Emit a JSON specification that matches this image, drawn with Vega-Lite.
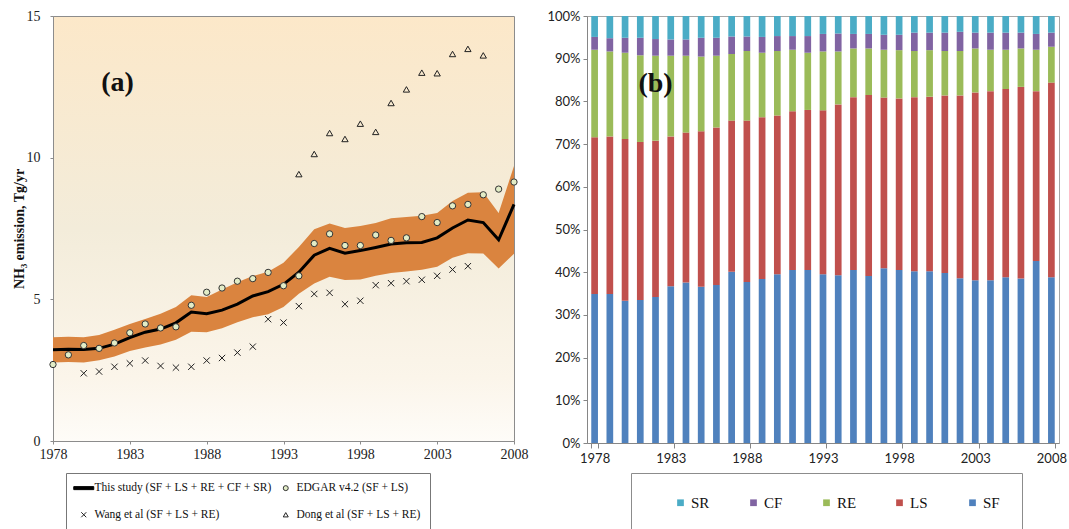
{
  "$schema": "https://vega.github.io/schema/vega-lite/v6.json",
  "background": "white",
  "padding": {"left": 11, "top": 8, "right": 4, "bottom": 0},
  "spacing": 17,
  "config": {"font": "Liberation Serif", "view": {"stroke": "#999999"}},
  "resolve": {"scale": {"color": "independent", "shape": "independent", "fill": "independent", "stroke": "independent"}},
  "datasets": {
    "study": [
      {"year": 1978, "val": 3.22, "lo": 2.77, "hi": 3.66},
      {"year": 1979, "val": 3.24, "lo": 2.79, "hi": 3.68},
      {"year": 1980, "val": 3.23, "lo": 2.77, "hi": 3.66},
      {"year": 1981, "val": 3.27, "lo": 2.85, "hi": 3.74},
      {"year": 1982, "val": 3.42, "lo": 2.98, "hi": 3.93},
      {"year": 1983, "val": 3.65, "lo": 3.18, "hi": 4.13},
      {"year": 1984, "val": 3.84, "lo": 3.30, "hi": 4.31},
      {"year": 1985, "val": 3.95, "lo": 3.41, "hi": 4.49},
      {"year": 1986, "val": 4.17, "lo": 3.57, "hi": 4.73},
      {"year": 1987, "val": 4.55, "lo": 3.86, "hi": 5.14},
      {"year": 1988, "val": 4.49, "lo": 3.84, "hi": 5.08},
      {"year": 1989, "val": 4.62, "lo": 3.98, "hi": 5.35},
      {"year": 1990, "val": 4.83, "lo": 4.19, "hi": 5.60},
      {"year": 1991, "val": 5.12, "lo": 4.37, "hi": 5.82},
      {"year": 1992, "val": 5.27, "lo": 4.47, "hi": 5.97},
      {"year": 1993, "val": 5.53, "lo": 4.73, "hi": 6.29},
      {"year": 1994, "val": 5.96, "lo": 5.20, "hi": 6.85},
      {"year": 1995, "val": 6.56, "lo": 5.56, "hi": 7.47},
      {"year": 1996, "val": 6.80, "lo": 5.80, "hi": 7.68},
      {"year": 1997, "val": 6.63, "lo": 5.68, "hi": 7.52},
      {"year": 1998, "val": 6.72, "lo": 5.70, "hi": 7.59},
      {"year": 1999, "val": 6.83, "lo": 5.83, "hi": 7.69},
      {"year": 2000, "val": 6.95, "lo": 5.93, "hi": 7.86},
      {"year": 2001, "val": 7.00, "lo": 5.98, "hi": 7.91},
      {"year": 2002, "val": 7.01, "lo": 6.04, "hi": 7.95},
      {"year": 2003, "val": 7.17, "lo": 6.15, "hi": 8.05},
      {"year": 2004, "val": 7.52, "lo": 6.47, "hi": 8.47},
      {"year": 2005, "val": 7.80, "lo": 6.63, "hi": 8.76},
      {"year": 2006, "val": 7.71, "lo": 6.62, "hi": 8.78},
      {"year": 2007, "val": 7.10, "lo": 6.09, "hi": 8.05},
      {"year": 2008, "val": 8.35, "lo": 6.61, "hi": 9.71}
    ],
    "refs": [
      {"year": 1978, "value": 2.70, "series": "EDGAR v4.2 (SF + LS)"},
      {"year": 1979, "value": 3.04, "series": "EDGAR v4.2 (SF + LS)"},
      {"year": 1980, "value": 3.37, "series": "EDGAR v4.2 (SF + LS)"},
      {"year": 1981, "value": 3.27, "series": "EDGAR v4.2 (SF + LS)"},
      {"year": 1982, "value": 3.46, "series": "EDGAR v4.2 (SF + LS)"},
      {"year": 1983, "value": 3.82, "series": "EDGAR v4.2 (SF + LS)"},
      {"year": 1984, "value": 4.13, "series": "EDGAR v4.2 (SF + LS)"},
      {"year": 1985, "value": 3.99, "series": "EDGAR v4.2 (SF + LS)"},
      {"year": 1986, "value": 4.03, "series": "EDGAR v4.2 (SF + LS)"},
      {"year": 1987, "value": 4.79, "series": "EDGAR v4.2 (SF + LS)"},
      {"year": 1988, "value": 5.25, "series": "EDGAR v4.2 (SF + LS)"},
      {"year": 1989, "value": 5.40, "series": "EDGAR v4.2 (SF + LS)"},
      {"year": 1990, "value": 5.64, "series": "EDGAR v4.2 (SF + LS)"},
      {"year": 1991, "value": 5.73, "series": "EDGAR v4.2 (SF + LS)"},
      {"year": 1992, "value": 5.95, "series": "EDGAR v4.2 (SF + LS)"},
      {"year": 1993, "value": 5.48, "series": "EDGAR v4.2 (SF + LS)"},
      {"year": 1994, "value": 5.83, "series": "EDGAR v4.2 (SF + LS)"},
      {"year": 1995, "value": 6.97, "series": "EDGAR v4.2 (SF + LS)"},
      {"year": 1996, "value": 7.31, "series": "EDGAR v4.2 (SF + LS)"},
      {"year": 1997, "value": 6.90, "series": "EDGAR v4.2 (SF + LS)"},
      {"year": 1998, "value": 6.90, "series": "EDGAR v4.2 (SF + LS)"},
      {"year": 1999, "value": 7.27, "series": "EDGAR v4.2 (SF + LS)"},
      {"year": 2000, "value": 7.08, "series": "EDGAR v4.2 (SF + LS)"},
      {"year": 2001, "value": 7.17, "series": "EDGAR v4.2 (SF + LS)"},
      {"year": 2002, "value": 7.92, "series": "EDGAR v4.2 (SF + LS)"},
      {"year": 2003, "value": 7.71, "series": "EDGAR v4.2 (SF + LS)"},
      {"year": 2004, "value": 8.30, "series": "EDGAR v4.2 (SF + LS)"},
      {"year": 2005, "value": 8.35, "series": "EDGAR v4.2 (SF + LS)"},
      {"year": 2006, "value": 8.69, "series": "EDGAR v4.2 (SF + LS)"},
      {"year": 2007, "value": 8.89, "series": "EDGAR v4.2 (SF + LS)"},
      {"year": 2008, "value": 9.14, "series": "EDGAR v4.2 (SF + LS)"},
      {"year": 1980, "value": 2.39, "series": "Wang et al (SF + LS + RE)"},
      {"year": 1981, "value": 2.45, "series": "Wang et al (SF + LS + RE)"},
      {"year": 1982, "value": 2.62, "series": "Wang et al (SF + LS + RE)"},
      {"year": 1983, "value": 2.74, "series": "Wang et al (SF + LS + RE)"},
      {"year": 1984, "value": 2.84, "series": "Wang et al (SF + LS + RE)"},
      {"year": 1985, "value": 2.65, "series": "Wang et al (SF + LS + RE)"},
      {"year": 1986, "value": 2.59, "series": "Wang et al (SF + LS + RE)"},
      {"year": 1987, "value": 2.62, "series": "Wang et al (SF + LS + RE)"},
      {"year": 1988, "value": 2.84, "series": "Wang et al (SF + LS + RE)"},
      {"year": 1989, "value": 2.93, "series": "Wang et al (SF + LS + RE)"},
      {"year": 1990, "value": 3.12, "series": "Wang et al (SF + LS + RE)"},
      {"year": 1991, "value": 3.33, "series": "Wang et al (SF + LS + RE)"},
      {"year": 1992, "value": 4.30, "series": "Wang et al (SF + LS + RE)"},
      {"year": 1993, "value": 4.18, "series": "Wang et al (SF + LS + RE)"},
      {"year": 1994, "value": 4.76, "series": "Wang et al (SF + LS + RE)"},
      {"year": 1995, "value": 5.19, "series": "Wang et al (SF + LS + RE)"},
      {"year": 1996, "value": 5.23, "series": "Wang et al (SF + LS + RE)"},
      {"year": 1997, "value": 4.83, "series": "Wang et al (SF + LS + RE)"},
      {"year": 1998, "value": 4.95, "series": "Wang et al (SF + LS + RE)"},
      {"year": 1999, "value": 5.50, "series": "Wang et al (SF + LS + RE)"},
      {"year": 2000, "value": 5.57, "series": "Wang et al (SF + LS + RE)"},
      {"year": 2001, "value": 5.64, "series": "Wang et al (SF + LS + RE)"},
      {"year": 2002, "value": 5.69, "series": "Wang et al (SF + LS + RE)"},
      {"year": 2003, "value": 5.83, "series": "Wang et al (SF + LS + RE)"},
      {"year": 2004, "value": 6.05, "series": "Wang et al (SF + LS + RE)"},
      {"year": 2005, "value": 6.17, "series": "Wang et al (SF + LS + RE)"},
      {"year": 1994, "value": 9.42, "series": "Dong et al (SF + LS + RE)"},
      {"year": 1995, "value": 10.13, "series": "Dong et al (SF + LS + RE)"},
      {"year": 1996, "value": 10.87, "series": "Dong et al (SF + LS + RE)"},
      {"year": 1997, "value": 10.66, "series": "Dong et al (SF + LS + RE)"},
      {"year": 1998, "value": 11.20, "series": "Dong et al (SF + LS + RE)"},
      {"year": 1999, "value": 10.91, "series": "Dong et al (SF + LS + RE)"},
      {"year": 2000, "value": 11.93, "series": "Dong et al (SF + LS + RE)"},
      {"year": 2001, "value": 12.41, "series": "Dong et al (SF + LS + RE)"},
      {"year": 2002, "value": 13.00, "series": "Dong et al (SF + LS + RE)"},
      {"year": 2003, "value": 12.98, "series": "Dong et al (SF + LS + RE)"},
      {"year": 2004, "value": 13.66, "series": "Dong et al (SF + LS + RE)"},
      {"year": 2005, "value": 13.84, "series": "Dong et al (SF + LS + RE)"},
      {"year": 2006, "value": 13.61, "series": "Dong et al (SF + LS + RE)"}
    ],
    "shares": [
      {"year":1978,"comp":"SF","ord":1,"pct":34.9},{"year":1978,"comp":"LS","ord":2,"pct":36.7},{"year":1978,"comp":"RE","ord":3,"pct":20.5},{"year":1978,"comp":"CF","ord":4,"pct":3.0},{"year":1978,"comp":"SR","ord":5,"pct":4.9},
      {"year":1979,"comp":"SF","ord":1,"pct":34.9},{"year":1979,"comp":"LS","ord":2,"pct":36.9},{"year":1979,"comp":"RE","ord":3,"pct":19.9},{"year":1979,"comp":"CF","ord":4,"pct":3.1},{"year":1979,"comp":"SR","ord":5,"pct":5.2},
      {"year":1980,"comp":"SF","ord":1,"pct":33.3},{"year":1980,"comp":"LS","ord":2,"pct":37.9},{"year":1980,"comp":"RE","ord":3,"pct":20.2},{"year":1980,"comp":"CF","ord":4,"pct":3.5},{"year":1980,"comp":"SR","ord":5,"pct":5.1},
      {"year":1981,"comp":"SF","ord":1,"pct":33.5},{"year":1981,"comp":"LS","ord":2,"pct":37.0},{"year":1981,"comp":"RE","ord":3,"pct":20.3},{"year":1981,"comp":"CF","ord":4,"pct":4.1},{"year":1981,"comp":"SR","ord":5,"pct":5.1},
      {"year":1982,"comp":"SF","ord":1,"pct":34.2},{"year":1982,"comp":"LS","ord":2,"pct":36.6},{"year":1982,"comp":"RE","ord":3,"pct":19.9},{"year":1982,"comp":"CF","ord":4,"pct":3.9},{"year":1982,"comp":"SR","ord":5,"pct":5.4},
      {"year":1983,"comp":"SF","ord":1,"pct":36.7},{"year":1983,"comp":"LS","ord":2,"pct":35.1},{"year":1983,"comp":"RE","ord":3,"pct":18.9},{"year":1983,"comp":"CF","ord":4,"pct":3.8},{"year":1983,"comp":"SR","ord":5,"pct":5.5},
      {"year":1984,"comp":"SF","ord":1,"pct":37.6},{"year":1984,"comp":"LS","ord":2,"pct":35.1},{"year":1984,"comp":"RE","ord":3,"pct":18.0},{"year":1984,"comp":"CF","ord":4,"pct":3.8},{"year":1984,"comp":"SR","ord":5,"pct":5.5},
      {"year":1985,"comp":"SF","ord":1,"pct":36.6},{"year":1985,"comp":"LS","ord":2,"pct":36.4},{"year":1985,"comp":"RE","ord":3,"pct":17.5},{"year":1985,"comp":"CF","ord":4,"pct":4.4},{"year":1985,"comp":"SR","ord":5,"pct":5.1},
      {"year":1986,"comp":"SF","ord":1,"pct":37.0},{"year":1986,"comp":"LS","ord":2,"pct":36.9},{"year":1986,"comp":"RE","ord":3,"pct":16.8},{"year":1986,"comp":"CF","ord":4,"pct":4.2},{"year":1986,"comp":"SR","ord":5,"pct":5.1},
      {"year":1987,"comp":"SF","ord":1,"pct":40.1},{"year":1987,"comp":"LS","ord":2,"pct":35.4},{"year":1987,"comp":"RE","ord":3,"pct":15.6},{"year":1987,"comp":"CF","ord":4,"pct":4.1},{"year":1987,"comp":"SR","ord":5,"pct":4.8},
      {"year":1988,"comp":"SF","ord":1,"pct":37.7},{"year":1988,"comp":"LS","ord":2,"pct":37.8},{"year":1988,"comp":"RE","ord":3,"pct":16.3},{"year":1988,"comp":"CF","ord":4,"pct":3.4},{"year":1988,"comp":"SR","ord":5,"pct":4.8},
      {"year":1989,"comp":"SF","ord":1,"pct":38.4},{"year":1989,"comp":"LS","ord":2,"pct":37.9},{"year":1989,"comp":"RE","ord":3,"pct":15.1},{"year":1989,"comp":"CF","ord":4,"pct":3.7},{"year":1989,"comp":"SR","ord":5,"pct":4.9},
      {"year":1990,"comp":"SF","ord":1,"pct":39.5},{"year":1990,"comp":"LS","ord":2,"pct":37.2},{"year":1990,"comp":"RE","ord":3,"pct":15.1},{"year":1990,"comp":"CF","ord":4,"pct":3.5},{"year":1990,"comp":"SR","ord":5,"pct":4.7},
      {"year":1991,"comp":"SF","ord":1,"pct":40.5},{"year":1991,"comp":"LS","ord":2,"pct":37.2},{"year":1991,"comp":"RE","ord":3,"pct":14.4},{"year":1991,"comp":"CF","ord":4,"pct":3.2},{"year":1991,"comp":"SR","ord":5,"pct":4.7},
      {"year":1992,"comp":"SF","ord":1,"pct":40.5},{"year":1992,"comp":"LS","ord":2,"pct":37.5},{"year":1992,"comp":"RE","ord":3,"pct":13.4},{"year":1992,"comp":"CF","ord":4,"pct":3.9},{"year":1992,"comp":"SR","ord":5,"pct":4.7},
      {"year":1993,"comp":"SF","ord":1,"pct":39.5},{"year":1993,"comp":"LS","ord":2,"pct":38.4},{"year":1993,"comp":"RE","ord":3,"pct":13.8},{"year":1993,"comp":"CF","ord":4,"pct":4.1},{"year":1993,"comp":"SR","ord":5,"pct":4.2},
      {"year":1994,"comp":"SF","ord":1,"pct":39.3},{"year":1994,"comp":"LS","ord":2,"pct":40.0},{"year":1994,"comp":"RE","ord":3,"pct":12.4},{"year":1994,"comp":"CF","ord":4,"pct":4.2},{"year":1994,"comp":"SR","ord":5,"pct":4.1},
      {"year":1995,"comp":"SF","ord":1,"pct":40.5},{"year":1995,"comp":"LS","ord":2,"pct":40.5},{"year":1995,"comp":"RE","ord":3,"pct":11.4},{"year":1995,"comp":"CF","ord":4,"pct":3.4},{"year":1995,"comp":"SR","ord":5,"pct":4.2},
      {"year":1996,"comp":"SF","ord":1,"pct":39.1},{"year":1996,"comp":"LS","ord":2,"pct":42.4},{"year":1996,"comp":"RE","ord":3,"pct":10.9},{"year":1996,"comp":"CF","ord":4,"pct":3.4},{"year":1996,"comp":"SR","ord":5,"pct":4.2},
      {"year":1997,"comp":"SF","ord":1,"pct":40.9},{"year":1997,"comp":"LS","ord":2,"pct":40.0},{"year":1997,"comp":"RE","ord":3,"pct":11.2},{"year":1997,"comp":"CF","ord":4,"pct":3.5},{"year":1997,"comp":"SR","ord":5,"pct":4.4},
      {"year":1998,"comp":"SF","ord":1,"pct":40.5},{"year":1998,"comp":"LS","ord":2,"pct":40.2},{"year":1998,"comp":"RE","ord":3,"pct":11.3},{"year":1998,"comp":"CF","ord":4,"pct":3.6},{"year":1998,"comp":"SR","ord":5,"pct":4.4},
      {"year":1999,"comp":"SF","ord":1,"pct":40.2},{"year":1999,"comp":"LS","ord":2,"pct":40.8},{"year":1999,"comp":"RE","ord":3,"pct":10.8},{"year":1999,"comp":"CF","ord":4,"pct":4.3},{"year":1999,"comp":"SR","ord":5,"pct":3.9},
      {"year":2000,"comp":"SF","ord":1,"pct":40.2},{"year":2000,"comp":"LS","ord":2,"pct":40.9},{"year":2000,"comp":"RE","ord":3,"pct":10.9},{"year":2000,"comp":"CF","ord":4,"pct":4.1},{"year":2000,"comp":"SR","ord":5,"pct":3.9},
      {"year":2001,"comp":"SF","ord":1,"pct":39.8},{"year":2001,"comp":"LS","ord":2,"pct":41.6},{"year":2001,"comp":"RE","ord":3,"pct":10.4},{"year":2001,"comp":"CF","ord":4,"pct":4.3},{"year":2001,"comp":"SR","ord":5,"pct":3.9},
      {"year":2002,"comp":"SF","ord":1,"pct":38.6},{"year":2002,"comp":"LS","ord":2,"pct":42.8},{"year":2002,"comp":"RE","ord":3,"pct":10.4},{"year":2002,"comp":"CF","ord":4,"pct":4.5},{"year":2002,"comp":"SR","ord":5,"pct":3.7},
      {"year":2003,"comp":"SF","ord":1,"pct":38.1},{"year":2003,"comp":"LS","ord":2,"pct":44.0},{"year":2003,"comp":"RE","ord":3,"pct":10.3},{"year":2003,"comp":"CF","ord":4,"pct":3.7},{"year":2003,"comp":"SR","ord":5,"pct":3.9},
      {"year":2004,"comp":"SF","ord":1,"pct":38.1},{"year":2004,"comp":"LS","ord":2,"pct":44.3},{"year":2004,"comp":"RE","ord":3,"pct":9.7},{"year":2004,"comp":"CF","ord":4,"pct":4.0},{"year":2004,"comp":"SR","ord":5,"pct":3.9},
      {"year":2005,"comp":"SF","ord":1,"pct":38.8},{"year":2005,"comp":"LS","ord":2,"pct":44.1},{"year":2005,"comp":"RE","ord":3,"pct":9.2},{"year":2005,"comp":"CF","ord":4,"pct":4.0},{"year":2005,"comp":"SR","ord":5,"pct":3.9},
      {"year":2006,"comp":"SF","ord":1,"pct":38.5},{"year":2006,"comp":"LS","ord":2,"pct":44.9},{"year":2006,"comp":"RE","ord":3,"pct":9.0},{"year":2006,"comp":"CF","ord":4,"pct":3.7},{"year":2006,"comp":"SR","ord":5,"pct":3.9},
      {"year":2007,"comp":"SF","ord":1,"pct":42.6},{"year":2007,"comp":"LS","ord":2,"pct":39.8},{"year":2007,"comp":"RE","ord":3,"pct":9.7},{"year":2007,"comp":"CF","ord":4,"pct":3.7},{"year":2007,"comp":"SR","ord":5,"pct":4.2},
      {"year":2008,"comp":"SF","ord":1,"pct":38.8},{"year":2008,"comp":"LS","ord":2,"pct":45.6},{"year":2008,"comp":"RE","ord":3,"pct":8.4},{"year":2008,"comp":"CF","ord":4,"pct":3.3},{"year":2008,"comp":"SR","ord":5,"pct":3.9}
    ]
  },
  "hconcat": [
    {
      "width": 461,
      "height": 425,
      "view": {
        "stroke": "#8c8c8c",
        "fill": {"gradient": "linear", "x1": 0, "y1": 0, "x2": 0, "y2": 1,
          "stops": [{"offset": 0, "color": "#FCE8C9"}, {"offset": 0.5, "color": "#F3ECDA"}, {"offset": 0.85, "color": "#FBF5EA"}, {"offset": 1, "color": "#FEFCF8"}]}
      },
      "layer": [
        {
          "data": {"name": "study"},
          "mark": {"type": "area", "color": "#DA843F", "opacity": 1},
          "encoding": {
            "x": {"field": "year", "type": "quantitative", "scale": {"domain": [1978, 2008], "nice": false, "zero": false},
              "axis": {"values": [1978, 1983, 1988, 1993, 1998, 2003, 2008], "format": "d", "title": null, "labelFlush": false,
                "labelFont": "Liberation Serif", "labelFontSize": 14, "labelColor": "#222222", "domainColor": "#8c8c8c", "tickColor": "#8c8c8c", "tickSize": 3, "labelPadding": 3, "grid": false}},
            "y": {"field": "lo", "type": "quantitative", "scale": {"domain": [0, 15], "nice": false},
              "axis": {"values": [0, 5, 10, 15], "title": "NH₃ emission, Tg/yr", "titleFont": "Liberation Serif", "titleFontSize": 14, "titleFontWeight": "bold", "titleColor": "#111111", "titlePadding": 0,
                "labelFont": "Liberation Serif", "labelFontSize": 14, "labelColor": "#222222", "domainColor": "#8c8c8c", "tickColor": "#8c8c8c", "tickSize": 3, "labelPadding": 10, "grid": false}},
            "y2": {"field": "hi"}
          }
        },
        {
          "data": {"name": "study"},
          "mark": {"type": "line", "color": "black", "strokeWidth": 3},
          "encoding": {
            "x": {"field": "year", "type": "quantitative"},
            "y": {"field": "val", "type": "quantitative"}
          }
        },
        {
          "data": {"name": "refs"},
          "mark": {"type": "point", "filled": true, "size": 40, "strokeWidth": 1, "opacity": 1},
          "encoding": {
            "x": {"field": "year", "type": "quantitative"},
            "y": {"field": "value", "type": "quantitative"},
            "shape": {"field": "series", "type": "nominal",
              "scale": {"domain": ["This study (SF + LS + RE + CF + SR)", "EDGAR v4.2 (SF + LS)", "Wang et al (SF + LS + RE)", "Dong et al (SF + LS + RE)"],
                "range": ["M-4,-0.6H4V0.6H-4Z", "circle", "M-1,-1L1,1M-1,1L1,-1", "triangle-up"]},
              "legend": {"orient": "none", "legendX": 13, "legendY": 457, "columns": 2, "direction": "horizontal", "title": null, "gridAlign": "all",
                "labelFont": "Liberation Serif", "labelFontSize": 11.5, "labelColor": "#111111", "labelLimit": 400, "symbolSize": 25, "symbolStrokeWidth": 1,
                "strokeColor": "#777777", "padding": 9, "rowPadding": 14, "columnPadding": 5, "labelOffset": 5, "symbolOffset": 3}},
            "fill": {"field": "series", "type": "nominal",
              "scale": {"domain": ["This study (SF + LS + RE + CF + SR)", "EDGAR v4.2 (SF + LS)", "Wang et al (SF + LS + RE)", "Dong et al (SF + LS + RE)"],
                "range": ["black", "#E2ECC6", "transparent", "transparent"]},
              "legend": {"orient": "none", "legendX": 13, "legendY": 457, "columns": 2, "direction": "horizontal", "title": null, "gridAlign": "all",
                "labelFont": "Liberation Serif", "labelFontSize": 11.5, "labelColor": "#111111", "labelLimit": 400, "symbolSize": 25, "symbolStrokeWidth": 1,
                "strokeColor": "#777777", "padding": 9, "rowPadding": 14, "columnPadding": 5, "labelOffset": 5, "symbolOffset": 3}},
            "stroke": {"field": "series", "type": "nominal",
              "scale": {"domain": ["This study (SF + LS + RE + CF + SR)", "EDGAR v4.2 (SF + LS)", "Wang et al (SF + LS + RE)", "Dong et al (SF + LS + RE)"],
                "range": ["black", "#333333", "#222222", "#222222"]},
              "legend": {"orient": "none", "legendX": 13, "legendY": 457, "columns": 2, "direction": "horizontal", "title": null, "gridAlign": "all",
                "labelFont": "Liberation Serif", "labelFontSize": 11.5, "labelColor": "#111111", "labelLimit": 400, "symbolSize": 25, "symbolStrokeWidth": 1,
                "strokeColor": "#777777", "padding": 9, "rowPadding": 14, "columnPadding": 5, "labelOffset": 5, "symbolOffset": 3}}
          }
        },
        {
          "data": {"values": [{"year": 1982.2, "value": 12.65, "label": "(a)"}]},
          "mark": {"type": "text", "font": "Liberation Serif", "fontSize": 28, "fontWeight": "bold", "color": "#111111", "align": "center", "baseline": "middle"},
          "encoding": {
            "x": {"field": "year", "type": "quantitative"},
            "y": {"field": "value", "type": "quantitative"},
            "text": {"field": "label"}
          }
        }
      ]
    },
    {
      "width": 472,
      "height": 427,
      "view": {"stroke": "#a6a6a6", "fill": "white"},
      "layer": [
        {
          "data": {"name": "shares"},
          "mark": {"type": "bar"},
          "encoding": {
            "x": {"field": "year", "type": "ordinal", "scale": {"paddingInner": 0.56, "paddingOuter": 0.28},
              "axis": {"values": [1978, 1983, 1988, 1993, 1998, 2003, 2008], "tickBand": "extent", "labelAngle": 0, "title": null,
                "labelFont": "Lato", "labelFontSize": 13, "labelColor": "#222222", "domainColor": "#868686", "tickColor": "#868686", "tickSize": 5, "labelPadding": 4}},
            "y": {"field": "pct", "type": "quantitative", "stack": "normalize", "scale": {"domain": [0, 1], "nice": false},
              "axis": {"values": [0, 0.1, 0.2, 0.3, 0.4, 0.5, 0.6, 0.7, 0.8, 0.9, 1], "format": ".0%", "title": null, "grid": false,
                "labelFont": "Lato", "labelFontSize": 13, "labelColor": "#222222", "domainColor": "#868686", "tickColor": "#868686", "tickSize": 4, "labelPadding": 3}},
            "color": {"field": "comp", "type": "nominal",
              "scale": {"domain": ["SR", "CF", "RE", "LS", "SF"], "range": ["#4BACC6", "#8064A2", "#9BBB59", "#C0504D", "#4F81BD"]},
              "legend": {"orient": "none", "legendX": 44, "legendY": 457, "direction": "horizontal", "title": null, "symbolType": "square", "symbolSize": 45,
                "labelFont": "Liberation Serif", "labelFontSize": 15, "labelColor": "#111111", "strokeColor": "#8c8c8c", "padding": 22, "symbolOffset": 20,
                "columnPadding": 15, "gridAlign": "all", "labelOffset": 3}},
            "order": {"field": "ord", "type": "quantitative"}
          }
        },
        {
          "data": {"values": [{"year": 1982, "ty": 0.84, "label": "(b)"}]},
          "mark": {"type": "text", "font": "Liberation Serif", "fontSize": 28, "fontWeight": "bold", "color": "#111111", "align": "center", "baseline": "middle"},
          "encoding": {
            "x": {"field": "year", "type": "ordinal"},
            "y": {"field": "ty", "type": "quantitative"},
            "text": {"field": "label"}
          }
        }
      ]
    }
  ]
}
